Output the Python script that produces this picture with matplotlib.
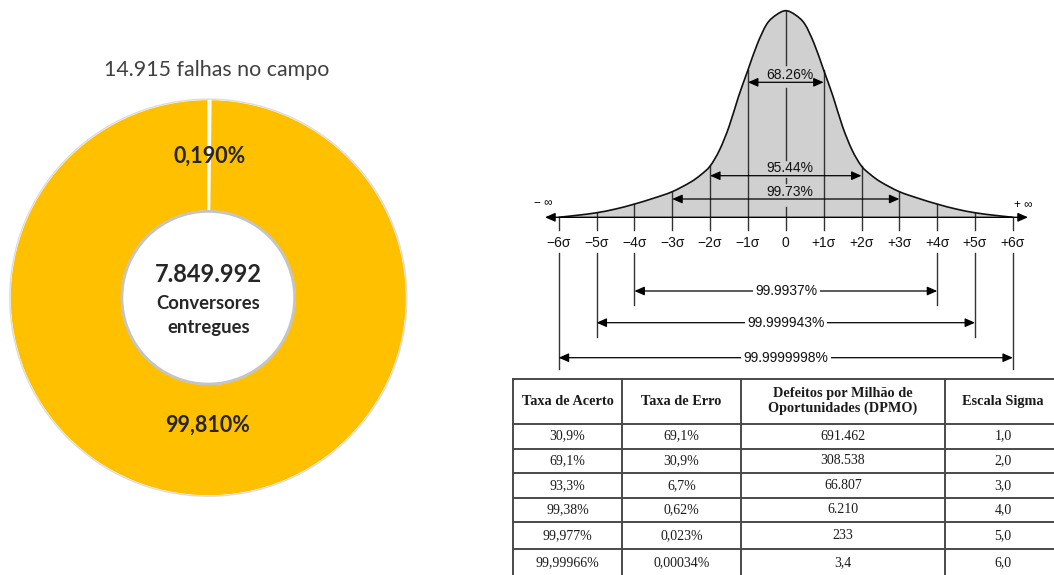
import matplotlib
matplotlib.use('Agg')
import matplotlib.pyplot as plt
from matplotlib.path import Path
from matplotlib.patches import PathPatch, Circle
import math

# donut data
falhas = 14915
entregues = 7849992

# bell curve: relative heights read at sigma positions (right half, mirrored)
sig_pts = [0, 0.25, 0.5, 0.75, 1, 1.25, 1.5, 1.75, 2, 2.25, 2.5, 3, 3.5, 4, 4.5, 5, 5.5, 6]
heights = [1.0, 0.98, 0.936, 0.84, 0.713, 0.584, 0.439, 0.326, 0.248, 0.205, 0.172,
           0.124, 0.092, 0.064, 0.04, 0.022, 0.01, 0.0]
sigma_ticks = [-6, -5, -4, -3, -2, -1, 0, 1, 2, 3, 4, 5, 6]
range_labels = ['68.26%', '95.44%', '99.73%', '99.9937%', '99.999943%', '99.9999998%']

# table
headers = ['Taxa de Acerto', 'Taxa de Erro', 'Defeitos por Milhão de\nOportunidades (DPMO)', 'Escala Sigma']
taxa_acerto = ['30,9%', '69,1%', '93,3%', '99,38%', '99,977%', '99,99966%']
taxa_erro = ['69,1%', '30,9%', '6,7%', '0,62%', '0,023%', '0,00034%']
dpmo = ['691.462', '308.538', '66.807', '6.210', '233', '3,4']
escala = ['1,0', '2,0', '3,0', '4,0', '5,0', '6,0']

W, H = 1054, 575
fig = plt.figure(figsize=(W / 100, H / 100), dpi=100)

# ---------- donut ----------
R_PX = 198.5
cx, cy = 208.3, 297.7
half = 1.04 * R_PX
axp = fig.add_axes([(cx - half) / W, (H - cy - half) / H, 2 * half / W, 2 * half / H])
gold = '#FFC000'
wedges, _ = axp.pie([falhas, entregues - falhas], startangle=90, counterclock=False,
                    colors=[gold, gold],
                    wedgeprops=dict(width=0.565, edgecolor='white', linewidth=1.4))
axp.add_patch(Circle((0, 0), 1.0, fill=False, edgecolor='#dcdcdc', lw=1.0))
axp.add_patch(Circle((0, 0), 0.435, facecolor='white', edgecolor='#c4c4c4', lw=2.0))
axp.set_xlim(-1.04, 1.04)
axp.set_ylim(-1.04, 1.04)
axp.set_aspect('equal')
axp.axis('off')

shares = [falhas / entregues, (entregues - falhas) / entregues]
label_r = [0.714, 0.643]
for w, p, r in zip(wedges, shares, label_r):
    mid = math.radians((w.theta1 + w.theta2) / 2)
    txt = f"{p * 100:.3f}%".replace('.', ',')
    axp.text(r * math.cos(mid), r * math.sin(mid), txt, ha='center', va='center',
             fontsize=15.5, fontweight='bold', color='#262626', family='Lato')

axp.text(0, 0.115, f"{entregues:,}".replace(',', '.'), ha='center', va='center',
         fontsize=17, fontweight='bold', color='#262626', family='Lato')
axp.text(0, -0.03, 'Conversores', ha='center', va='center',
         fontsize=13.3, fontweight='bold', color='#262626', family='Lato')
axp.text(0, -0.15, 'entregues', ha='center', va='center',
         fontsize=13.3, fontweight='bold', color='#262626', family='Lato')

fig.text(217 / W, 1 - 70 / H, f"{falhas:,}".replace(',', '.') + ' falhas no campo',
         ha='center', va='center', fontsize=15.4, color='#404040', family='Lato')

# ---------- bell curve + table (pixel coordinates) ----------
ax = fig.add_axes([0, 0, 1, 1])
ax.set_xlim(0, W)
ax.set_ylim(H, 0)
ax.axis('off')

X0, SIG, BASE, AMP = 785.8, 37.85, 217.3, 206.6
sans = ['Liberation Sans', 'DejaVu Sans']
serif = ['Liberation Serif', 'DejaVu Serif']
line_c = '#333333'

s_all = [-s for s in sig_pts[:0:-1]] + sig_pts
h_all = heights[:0:-1] + heights
px = [X0 + s * SIG for s in s_all]
py = [BASE - h * AMP for h in h_all]

# smooth path through the read points (cubic hermite in x)
n = len(px)
slopes = []
for i in range(n):
    a = max(i - 1, 0)
    b = min(i + 1, n - 1)
    slopes.append((py[b] - py[a]) / (px[b] - px[a]))
verts = [(px[0], py[0])]
codes = [Path.MOVETO]
for i in range(n - 1):
    dx = px[i + 1] - px[i]
    verts += [(px[i] + dx / 3, py[i] + slopes[i] * dx / 3),
              (px[i + 1] - dx / 3, py[i + 1] - slopes[i + 1] * dx / 3),
              (px[i + 1], py[i + 1])]
    codes += [Path.CURVE4] * 3
curve = Path(verts, codes)
fill_path = Path(verts + [(px[0], py[0])], codes + [Path.CLOSEPOLY])
ax.add_patch(PathPatch(fill_path, facecolor='#d0d0d0', edgecolor='none', zorder=1))
ax.add_patch(PathPatch(curve, facecolor='none', edgecolor='#111111', lw=1.2, zorder=4))

# baseline with arrows
ax.annotate('', xy=(1028, BASE), xytext=(545, BASE),
            arrowprops=dict(arrowstyle='<|-|>,head_length=0.5,head_width=0.22',
                            color='black', lw=1.0, shrinkA=0, shrinkB=0,
                            mutation_scale=12), zorder=5)
ax.text(543, 203, '− ∞', ha='center', va='center', fontsize=8.5, family=sans)
ax.text(1023, 205, '+ ∞', ha='center', va='center', fontsize=8.5, family=sans)

h_at = dict(zip(sig_pts, heights))
low_ends = {4: 305, 5: 337, 6: 369}
for s in sigma_ticks:
    x = X0 + s * SIG
    if s == 0:
        for y0, y1 in [(BASE - AMP, 65), (88, 160), (178, 183), (207, 230)]:
            ax.plot([x, x], [y0, y1], color=line_c, lw=1.0, zorder=2)
        lab = '0'
    else:
        top = BASE - h_at[abs(s)] * AMP
        ax.plot([x, x], [top, 230], color=line_c, lw=1.0, zorder=2)
        if abs(s) >= 4:
            ax.plot([x, x], [253, low_ends[abs(s)]], color=line_c, lw=1.0, zorder=2)
        lab = ('+' if s > 0 else '−') + f'{abs(s)}σ'
    ax.text(x, 243, lab, ha='center', va='center', fontsize=10, family=sans, color='#111111')

arrow_y = [82.3, 175.7, 199, 291, 322.7, 357.7]
text_y = [75, 168.3, 191.7, 291, 322.7, 357.7]
text_x = [790, 790, 790, 786.5, 786, 786]
for k, lab in enumerate(range_labels):
    s = k + 1
    ax.annotate('', xy=(X0 + s * SIG, arrow_y[k]), xytext=(X0 - s * SIG, arrow_y[k]),
                arrowprops=dict(arrowstyle='<|-|>,head_length=0.5,head_width=0.22',
                                color='black', lw=0.9, shrinkA=0, shrinkB=0,
                                mutation_scale=12), zorder=3)
    bb = None
    if k >= 3:
        bb = dict(boxstyle='square,pad=0.15', facecolor='white', edgecolor='none')
    ax.text(text_x[k], text_y[k], lab, ha='center', va='center', fontsize=10,
            family=sans, color='#111111', bbox=bb, zorder=6)

# table
col_edges = [513.3, 621.7, 741, 945, 1061]
row_edges = [379, 423.5, 448.5, 473, 497.5, 522, 549, 576]
tcol = '#4a4a4a'
for y in row_edges:
    ax.plot([col_edges[0], col_edges[-1]], [y, y], color=tcol, lw=1.4, clip_on=False)
for x in col_edges:
    ax.plot([x, x], [row_edges[0], row_edges[-1]], color=tcol, lw=1.4, clip_on=False)

cols = [taxa_acerto, taxa_erro, dpmo, escala]
for j, head in enumerate(headers):
    xc = (col_edges[j] + col_edges[j + 1]) / 2
    ax.text(xc, (row_edges[0] + row_edges[1]) / 2, head, ha='center', va='center',
            fontsize=10.3, fontweight='bold', family=serif, color='#1a1a1a',
            linespacing=1.1)
    for i, val in enumerate(cols[j]):
        yc = (row_edges[i + 1] + row_edges[i + 2]) / 2
        ax.text(xc, yc, val, ha='center', va='center', fontsize=10,
                family=serif, color='#1a1a1a')

fig.savefig('out.png', dpi=100)
